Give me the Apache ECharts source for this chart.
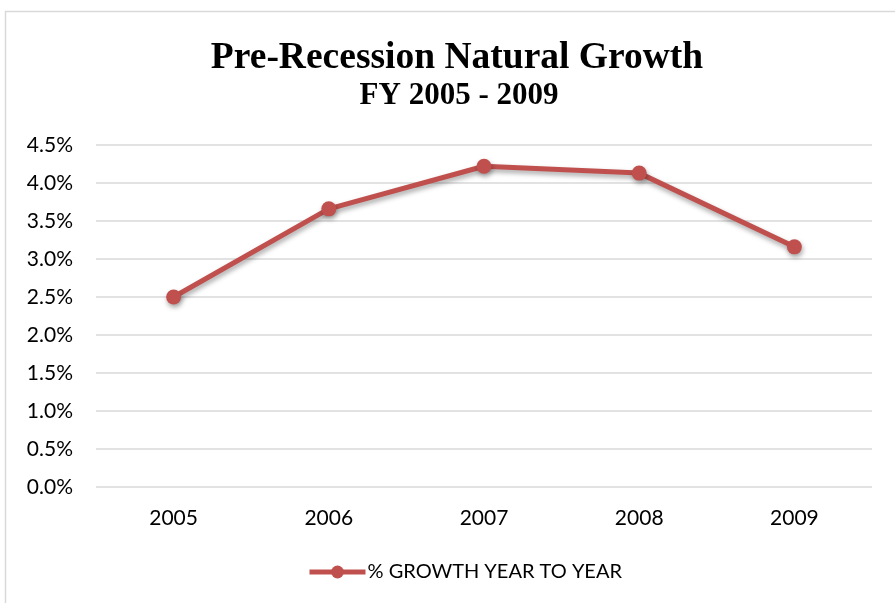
<!DOCTYPE html>
<html>
<head>
<meta charset="utf-8">
<script src="https://cdn.jsdelivr.net/npm/echarts@6/dist/echarts.min.js"></script>
<style>
  html, body { margin: 0; padding: 0; background: #fff; }
  #chart { width: 895px; height: 603px; }
</style>
</head>
<body>
<div id="chart"></div>
<script>
// Fiscal years and year-over-year growth (%)
const years = ['2005', '2006', '2007', '2008', '2009'];
const growth = [2.50, 3.66, 4.22, 4.13, 3.16];
const yTicks = { min: 0, max: 4.5, step: 0.5 };
const seriesName = '% GROWTH YEAR TO YEAR';

const chart = echarts.init(document.getElementById('chart'));
const red = '#C0504D';
const labelFont = 'Lato';

chart.setOption({
  backgroundColor: '#fff',
  animation: false,
  graphic: [{
    type: 'rect',
    shape: { x: 5.5, y: 11.5, width: 900, height: 600 },
    style: { fill: 'none', stroke: '#d9d9d9', lineWidth: 1.5 },
    silent: true
  }],
  title: [{
    text: 'Pre-Recession Natural Growth',
    left: 452, top: 34, textAlign: 'center',
    textStyle: { fontFamily: 'Liberation Serif', fontWeight: 'bold', fontSize: 37.5, color: '#000' }
  }, {
    text: 'FY 2005 - 2009',
    left: 454, top: 75, textAlign: 'center',
    textStyle: { fontFamily: 'Liberation Serif', fontWeight: 'bold', fontSize: 31, color: '#000' }
  }],
  legend: {
    top: 557, left: 302,
    itemWidth: 56, itemHeight: 16, itemGap: 2,
    textStyle: { fontFamily: labelFont, fontSize: 20, color: '#000', padding: [0, 0, 0, -3] },
    lineStyle: { width: 5 },
    data: [{ name: seriesName }]
  },
  grid: { left: 96, right: 23, top: 145, bottom: 116, containLabel: false },
  xAxis: {
    type: 'category',
    data: years,
    boundaryGap: true,
    axisLine: { show: false },
    axisTick: { show: false },
    axisLabel: { margin: 21, fontFamily: labelFont, fontSize: 21, color: '#000' }
  },
  yAxis: {
    type: 'value',
    min: yTicks.min, max: yTicks.max, interval: yTicks.step,
    axisLine: { show: false },
    axisTick: { show: false },
    splitLine: { lineStyle: { color: '#d9d9d9', width: 1.5 } },
    axisLabel: {
      margin: 23, fontFamily: labelFont, fontSize: 21, color: '#000',
      formatter: v => v.toFixed(1) + '%'
    }
  },
  series: [{
    name: seriesName,
    type: 'line',
    data: growth,
    symbol: 'circle',
    symbolSize: 15,
    color: red,
    lineStyle: {
      color: red, width: 5,
      shadowColor: 'rgba(0,0,0,0.35)', shadowBlur: 5, shadowOffsetX: 1, shadowOffsetY: 3
    },
    itemStyle: {
      color: red,
      shadowColor: 'rgba(0,0,0,0.35)', shadowBlur: 5, shadowOffsetX: 1, shadowOffsetY: 3
    }
  }]
});
</script>
</body>
</html>
